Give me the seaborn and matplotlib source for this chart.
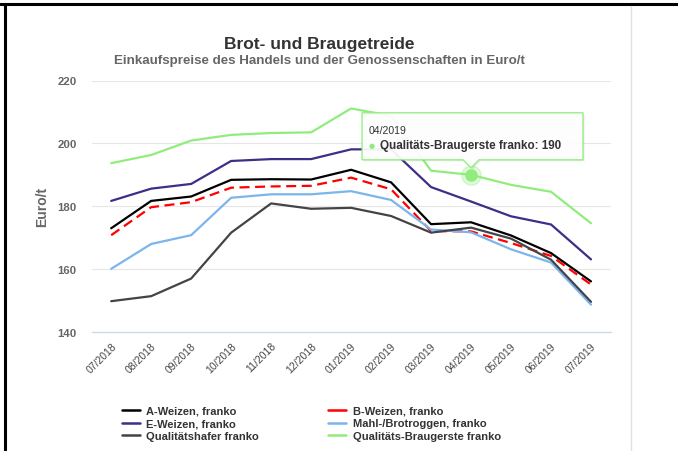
import numpy as np
import pandas as pd
import matplotlib
matplotlib.use("Agg")
import matplotlib.pyplot as plt
import seaborn as sns
from matplotlib.lines import Line2D
from matplotlib.patches import Polygon

months = ["07/2018", "08/2018", "09/2018", "10/2018", "11/2018", "12/2018", "01/2019",
          "02/2019", "03/2019", "04/2019", "05/2019", "06/2019", "07/2019"]

a_weizen = [173.0, 181.7, 183.1, 188.4, 188.6, 188.5, 191.6, 187.6, 174.3, 174.9, 170.7, 165.1, 156.1]
b_weizen = [170.8, 179.7, 181.3, 185.9, 186.3, 186.5, 189.1, 185.4, 172.1, 172.0, 168.3, 164.2, 155.1]
e_weizen = [181.7, 185.6, 187.1, 194.4, 195.0, 195.0, 198.1, 198.1, 186.1, 181.5, 176.8, 174.2, 163.1]
roggen = [160.1, 168.0, 170.8, 182.7, 183.8, 183.8, 184.8, 182.0, 172.6, 171.7, 166.3, 162.1, 148.7]
hafer = [149.8, 151.4, 157.0, 171.6, 180.9, 179.2, 179.5, 176.9, 171.6, 173.2, 169.7, 163.0, 149.6]
braugerste = [193.7, 196.3, 200.9, 202.7, 203.3, 203.5, 211.1, 208.8, 191.3, 190.0, 186.8, 184.6, 174.6]

series_names = ["A-Weizen, franko", "B-Weizen, franko", "E-Weizen, franko",
                "Mahl-/Brotroggen, franko", "Qualitätshafer franko", "Qualitäts-Braugerste franko"]
series_values = [a_weizen, b_weizen, e_weizen, roggen, hafer, braugerste]
colors = ["#000000", "#ff0000", "#3f2d86", "#7cb5ec", "#434348", "#90ed7d"]

tooltip_idx = 9

rows = []
for name, vals in zip(series_names, series_values):
    for i, v in enumerate(vals):
        rows.append({"idx": i, "Monat": months[i], "Preis": v, "Serie": name})
df = pd.DataFrame(rows)

sns.set_theme(style="white")
plt.rcParams["font.family"] = ["Liberation Sans", "DejaVu Sans"]

W, H = 678, 452
fig = plt.figure(figsize=(W / 100, H / 100), dpi=100)
ax = fig.add_axes([92 / W, 1 - 333 / H, (611 - 92) / W, (333 - 81.5) / H])

palette = dict(zip(series_names, colors))
dashes = {n: "" for n in series_names}
dashes["B-Weizen, franko"] = (4.5, 2.5)
sns.lineplot(data=df, x="idx", y="Preis", hue="Serie", style="Serie", palette=palette,
             dashes=dashes, linewidth=1.6, ax=ax, legend=False, zorder=3)

ax.set_xlim(-0.48, 12.5)
ax.set_ylim(140, 220)
ax.set_yticks([140, 160, 180, 200, 220])
ax.set_yticklabels(["140", "160", "180", "200", "220"], fontsize=8.2, fontweight="bold", color="#666666")
ax.set_xticks(range(len(months)))
ax.set_xticklabels(months, rotation=45, ha="right", rotation_mode="anchor",
                   fontsize=7.5, color="#444444")
ax.tick_params(axis="x", length=0, pad=6)
ax.tick_params(axis="y", length=0, pad=11)
ax.grid(axis="y", color="#e6e6e6", linewidth=0.8)
ax.grid(axis="x", visible=False)
for s in ["top", "right", "left"]:
    ax.spines[s].set_visible(False)
ax.spines["bottom"].set_color("#ccd6eb")
ax.spines["bottom"].set_linewidth(0.9)
ax.set_xlabel("")
ax.set_ylabel("Euro/t", fontsize=10, fontweight="bold", color="#666666", labelpad=6)

fig.text(319 / W, 1 - 44 / H, "Brot- und Braugetreide", ha="center", va="center",
         fontsize=12.5, fontweight="bold", color="#333333")
fig.text(319 / W, 1 - 61 / H, "Einkaufspreise des Handels und der Genossenschaften in Euro/t",
         ha="center", va="center", fontsize=9.6, fontweight="bold", color="#666666")

# legend (row-major order like the original)
order = [0, 2, 4, 1, 3, 5]
handles = [Line2D([0], [0], color=colors[i], lw=1.8) for i in order]
labels = [series_names[i] for i in order]
fig.legend(handles, labels, ncol=2, loc="upper left", bbox_to_anchor=(112 / W, 1 - 397 / H),
           frameon=False, handlelength=1.6, handletextpad=0.6,
           columnspacing=6.2, labelspacing=0.22, prop={"weight": "bold", "size": 8})
for t in fig.legends[0].get_texts():
    t.set_color("#333333")

# highlighted point + tooltip
fig.canvas.draw()
px, py = ax.transData.transform((tooltip_idx, braugerste[tooltip_idx]))
py = H - py
ax.plot([tooltip_idx], [braugerste[tooltip_idx]], "o", color="#90ed7d", ms=14, alpha=0.3, zorder=4)
ax.plot([tooltip_idx], [braugerste[tooltip_idx]], "o", color="#90ed7d", ms=8, zorder=5)

def f(x, y):
    return (x / W, 1 - y / H)

box = [(px - 109, py - 62), (px + 112, py - 62), (px + 112, py - 15), (px + 8, py - 15),
       (px, py - 7), (px - 8, py - 15), (px - 109, py - 15)]
shadow = Polygon([f(x + 1.5, y + 1.5) for x, y in box], closed=True, transform=fig.transFigure,
                 facecolor="#000000", alpha=0.08, edgecolor="none", zorder=9)
fig.add_artist(shadow)
poly = Polygon([f(x, y) for x, y in box], closed=True, transform=fig.transFigure,
               facecolor="white", alpha=0.93, edgecolor="#90ed7d", linewidth=1.0, zorder=10)
fig.add_artist(poly)
fig.text(*f(px - 102, py - 45), months[tooltip_idx], ha="left", va="center",
         fontsize=7.6, color="#333333", zorder=11)
fig.text(*f(px - 102, py - 30), "●", ha="left", va="center", fontsize=5,
         color="#90ed7d", zorder=11, family="DejaVu Sans")
fig.text(*f(px - 91, py - 30), f"Qualitäts-Braugerste franko: {braugerste[tooltip_idx]:.0f}",
         ha="left", va="center", fontsize=8.4, fontweight="bold", color="#333333", zorder=11)

# screenshot frame
fig.add_artist(Line2D([0, 1], [1 - 5 / H, 1 - 5 / H], color="black", lw=2.2, transform=fig.transFigure))
fig.add_artist(Line2D([5 / W, 5 / W], [0, 1 - 5 / H], color="black", lw=2.2, transform=fig.transFigure))
fig.add_artist(Line2D([631 / W, 631 / W], [0, 1 - 7 / H], color="#e0e0e0", lw=1.0, transform=fig.transFigure))

fig.savefig("out.png", dpi=100)
